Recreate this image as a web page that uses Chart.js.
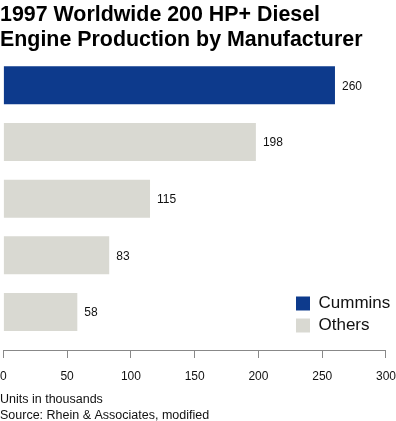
<!DOCTYPE html>
<html>
<head>
<meta charset="utf-8">
<script src="https://cdn.jsdelivr.net/npm/chart.js@4.4.0/dist/chart.umd.min.js"></script>
<style>
  html, body { margin: 0; padding: 0; background: #fff; }
</style>
</head>
<body>
<canvas id="myChart" width="396" height="421"></canvas>
<script>
const cumminsUnits = [260];
const othersUnits = [198, 115, 83, 58];
const xTicks = [0, 50, 100, 150, 200, 250, 300];
const ranks = [0, 1, 2, 3, 4];
const titleLines = ['1997 Worldwide 200 HP+ Diesel', 'Engine Production by Manufacturer'];
const footLines = ['Units in thousands', 'Source: Rhein & Associates, modified'];

const FONT = '"Liberation Sans", Arial, Helvetica, sans-serif';

// bars are ranked top to bottom, y = rank
const cumminsData = cumminsUnits.map((v, i) => ({ x: v, y: ranks[i] }));
const othersData = othersUnits.map((v, i) => ({ x: v, y: ranks[cumminsUnits.length + i] }));

// value printed just right of each bar
const valueLabels = {
    id: 'valueLabels',
    afterDatasetsDraw(chart) {
        const ctx = chart.ctx;
        ctx.save();
        ctx.font = '12px ' + FONT;
        ctx.fillStyle = '#111';
        ctx.textBaseline = 'middle';
        chart.data.datasets.forEach((ds, i) => {
            chart.getDatasetMeta(i).data.forEach((bar, j) => {
                ctx.fillText(ds.data[j].x, bar.x + 7, bar.y + 1);
            });
        });
        ctx.restore();
    }
};

// push the legend into the lower right corner of the plot
const legendCorner = {
    id: 'legendCorner',
    afterLayout(chart) {
        const lg = chart.legend;
        const area = chart.chartArea;
        lg.left = area.right - 95;
        lg.right = chart.width;
        lg.bottom = area.bottom - 11;
    }
};

const ctx = document.getElementById('myChart');

const myChart = new Chart(ctx, {
    type: 'bar',
    data: {
        datasets: [{
            label: 'Cummins',
            data: cumminsData,
            backgroundColor: '#0d3a8c',
            borderWidth: 0,
            grouped: false,
            barPercentage: 0.67,
            categoryPercentage: 1,
            maxBarThickness: 38
        }, {
            label: 'Others',
            data: othersData,
            backgroundColor: '#d9d9d2',
            borderWidth: 0,
            grouped: false,
            barPercentage: 0.67,
            categoryPercentage: 1,
            maxBarThickness: 38
        }]
    },
    options: {
        indexAxis: 'y',
        responsive: false,
        animation: false,
        layout: { padding: 0 },
        scales: {
            x: {
                type: 'linear',
                min: 0,
                max: 300,
                afterBuildTicks: (scale) => {
                    scale.ticks = xTicks.map(v => ({ value: v }));
                },
                ticks: {
                    color: '#111',
                    font: { family: FONT, size: 12, lineHeight: '37px' },
                    padding: 0,
                    maxRotation: 0
                },
                grid: {
                    drawOnChartArea: false,
                    drawTicks: true,
                    tickLength: 8,
                    color: '#888'
                },
                border: { display: true, color: '#888' }
            },
            y: {
                type: 'linear',
                reverse: true,
                offset: false,
                min: -0.5,
                max: 4.67,
                afterBuildTicks: (scale) => {
                    scale.ticks = ranks.map(v => ({ value: v }));
                },
                display: false
            }
        },
        plugins: {
            title: {
                display: true,
                text: titleLines,
                align: 'start',
                color: '#000',
                font: { family: FONT, size: 21.4, weight: 'bold', lineHeight: '25px' },
                padding: { top: 3, bottom: 4 }
            },
            subtitle: {
                display: true,
                position: 'bottom',
                text: footLines,
                align: 'start',
                color: '#111',
                font: { family: FONT, size: 12.5, lineHeight: '16px' },
                padding: { top: -3, bottom: -3 }
            },
            legend: {
                position: 'chartArea',
                align: 'end',
                labels: {
                    boxWidth: 14,
                    boxHeight: 14,
                    padding: 5,
                    color: '#111',
                    font: { family: FONT, size: 17 }
                }
            },
            tooltip: { enabled: false }
        }
    },
    plugins: [valueLabels, legendCorner]
});
</script>
</body>
</html>
